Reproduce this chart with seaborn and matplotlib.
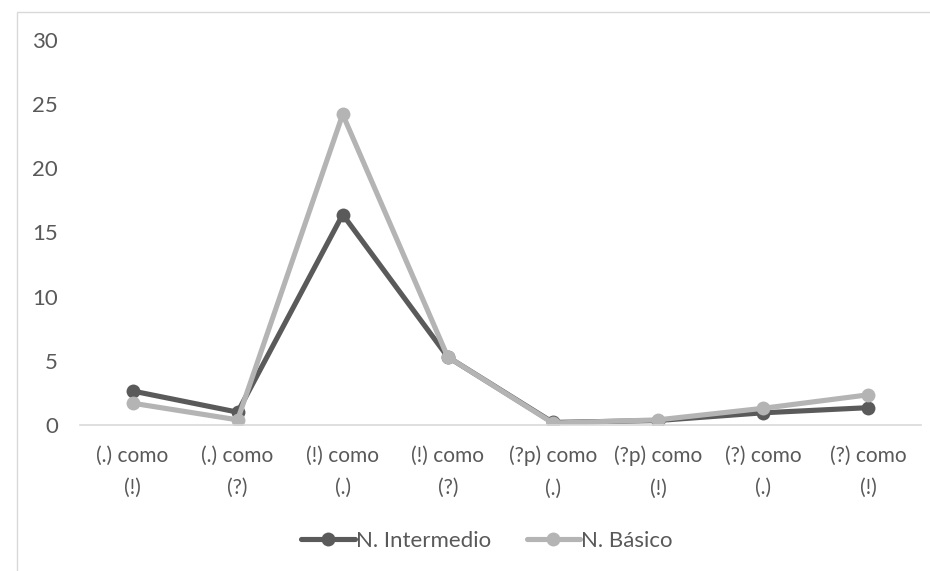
import matplotlib
matplotlib.use("Agg")
import matplotlib.pyplot as plt
import seaborn as sns
import pandas as pd
from matplotlib.patches import Rectangle

categorias = ["(.) como\n(!)", "(.) como\n(?)", "(!) como\n(.)", "(!) como\n(?)",
              "(?p) como\n(.)", "(?p) como\n(!)", "(?) como\n(.)", "(?) como\n(!)"]
intermedio = [2.65, 1.0, 16.4, 5.3, 0.2, 0.35, 0.95, 1.35]
basico = [1.7, 0.4, 24.2, 5.3, 0.15, 0.4, 1.3, 2.35]
series = ["N. Intermedio", "N. Básico"]
yticks = [0, 5, 10, 15, 20, 25, 30]

df = pd.DataFrame({
    "categoria": categorias * 2,
    "valor": intermedio + basico,
    "serie": [series[0]] * len(categorias) + [series[1]] * len(categorias),
})

sns.set_style("white")
plt.rcParams["font.family"] = ["Lato", "DejaVu Sans"]

fig = plt.figure(figsize=(9.30, 5.71), dpi=100)
ax = fig.add_axes([0.086, 0.2557, 0.904, 0.6743])

# outer chart-area frame
fig.patches.append(Rectangle((17 / 930, -0.1), 1.0, 1 - 12 / 571 + 0.1,
                             transform=fig.transFigure, fill=False,
                             edgecolor="#d9d9d9", linewidth=1.0))

palette = {"N. Intermedio": "#5a5a5a", "N. Básico": "#b4b4b4"}
sns.lineplot(data=df, x="categoria", y="valor", hue="serie", sort=False,
             palette=palette, marker="o", markersize=10, markeredgewidth=0,
             linewidth=3.7, ax=ax)

ax.set_xlim(-0.5, len(categorias) - 0.5)
ax.set_ylim(0, 30)
ax.set_yticks(yticks)
ax.set_xlabel("")
ax.set_ylabel("")
for s in ["top", "right", "left"]:
    ax.spines[s].set_visible(False)
ax.spines["bottom"].set_color("#d9d9d9")
ax.spines["bottom"].set_linewidth(1.2)
ax.tick_params(axis="y", length=0, colors="#595959", labelsize=16, pad=16)
ax.tick_params(axis="x", length=0, colors="#595959", labelsize=15, pad=15)
for lbl in ax.get_xticklabels():
    lbl.set_linespacing(1.75)

handles, labels = ax.get_legend_handles_labels()
ax.legend(handles, labels, loc="center", bbox_to_anchor=(487 / 930, 1 - 541 / 571),
          bbox_transform=fig.transFigure, ncol=2, frameon=False, fontsize=16,
          labelcolor="#595959", handlelength=2.4, handletextpad=0.05,
          columnspacing=1.6)

fig.savefig("out.png", dpi=100, facecolor="white")
